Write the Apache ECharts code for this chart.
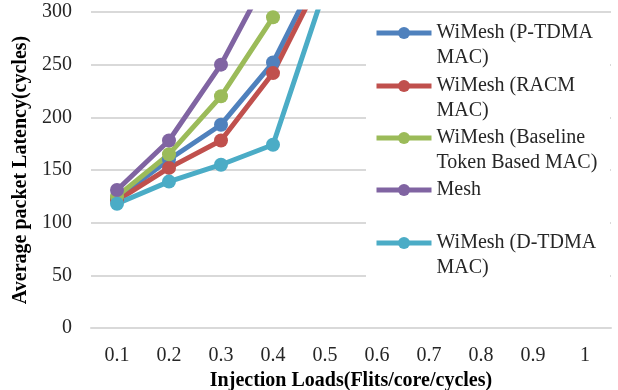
<!DOCTYPE html>
<html>
<head>
<meta charset="utf-8">
<script src="https://cdn.jsdelivr.net/npm/echarts@6/dist/echarts.min.js"></script>
<style>
  html, body { margin: 0; padding: 0; background: #fff; }
  #chart { width: 618px; height: 390px; }
</style>
</head>
<body>
<div id="chart"></div>
<script>
// data
const loads = ['0.1', '0.2', '0.3', '0.4', '0.5', '0.6', '0.7', '0.8', '0.9', '1'];
const yTicks = [0, 50, 100, 150, 200, 250, 300];
const pTdma = [123, 160, 193, 252, 350];
const racm = [121, 152, 178, 242, 340];
const baseline = [125, 165, 220, 295];
const mesh = [131, 178, 250, 343];
const dTdma = [118, 139, 155, 174, 322];

const seriesDefs = [
  { name: 'WiMesh (P-TDMA MAC)', label: '\nWiMesh (P-TDMA\nMAC)', data: pTdma, color: '#4F81BD', top: 33 },
  { name: 'WiMesh (RACM MAC)', label: '\nWiMesh (RACM\nMAC)', data: racm, color: '#C0504D', top: 86 },
  { name: 'WiMesh (Baseline Token Based MAC)', label: '\nWiMesh (Baseline\nToken Based MAC)', data: baseline, color: '#9BBB59', top: 138 },
  { name: 'Mesh', label: 'Mesh', data: mesh, color: '#8064A2', top: 190 },
  { name: 'WiMesh (D-TDMA MAC)', label: '\nWiMesh (D-TDMA\nMAC)', data: dTdma, color: '#4BACC6', top: 243 }
];

const font = 'Liberation Serif';
const myChart = echarts.init(document.getElementById('chart'));

const legends = seriesDefs.map(s => {
  const lines = s.label.split('\n').length;
  return {
    data: [s.name],
    left: 374,
    top: s.top - lines * 25 / 2,
    padding: 0,
    itemWidth: 55,
    itemHeight: 15,
    lineStyle: { width: 5 },
    formatter: () => s.label,
    textStyle: { fontFamily: font, fontSize: 20, lineHeight: 25, color: '#262626' }
  };
});

const option = {
  animation: false,
  backgroundColor: '#fff',
  grid: { left: 91, right: 7, top: 12, bottom: 62, outerBoundsMode: 'none', containLabel: false },
  legend: legends,
  graphic: [{
    type: 'rect', left: 366, top: 20, z: 3,
    shape: { width: 244, height: 262 },
    style: { fill: '#fff' }
  }],
  xAxis: {
    type: 'category',
    data: loads,
    boundaryGap: true,
    name: 'Injection Loads(Flits/core/cycles)',
    nameLocation: 'middle',
    nameGap: 36,
    nameTextStyle: { fontFamily: font, fontSize: 20, fontWeight: 'bold', color: '#000' },
    axisLine: { lineStyle: { color: '#D9D9D9', width: 2 } },
    axisTick: { show: false },
    axisLabel: { fontFamily: font, fontSize: 20, color: '#262626', margin: 18 }
  },
  yAxis: {
    type: 'value',
    min: yTicks[0],
    max: yTicks[yTicks.length - 1],
    interval: 50,
    name: 'Average packet Latency(cycles)',
    nameLocation: 'middle',
    nameGap: 59,
    nameTextStyle: { fontFamily: font, fontSize: 20, fontWeight: 'bold', color: '#000' },
    axisLine: { show: false },
    axisTick: { show: false },
    axisLabel: { fontFamily: font, fontSize: 20, color: '#262626', margin: 19 },
    splitLine: { lineStyle: { color: '#D9D9D9', width: 2 } }
  },
  series: seriesDefs.map(s => ({
    type: 'line',
    name: s.name,
    data: s.data,
    symbol: 'circle',
    symbolSize: 14,
    clip: true,
    lineStyle: { width: 5, color: s.color },
    itemStyle: { color: s.color }
  }))
};

myChart.setOption(option);
</script>
</body>
</html>
